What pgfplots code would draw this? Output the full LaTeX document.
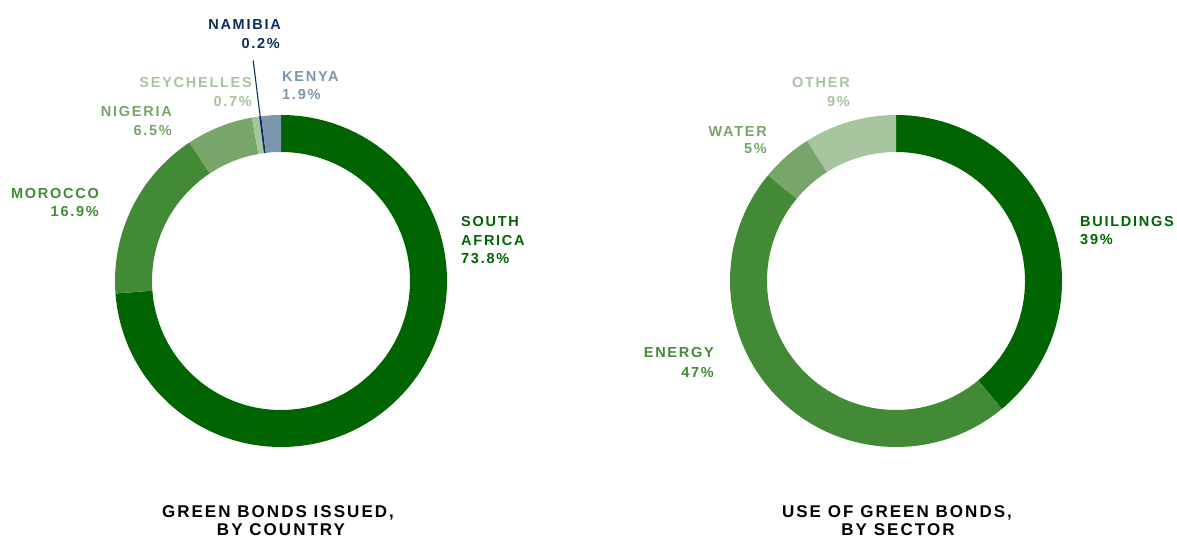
\documentclass[border=0pt]{standalone}
\usepackage{pgfplots}
\pgfplotsset{compat=1.18}
\usepackage{pgfplotstable}
\usepackage{fontspec}
\setmainfont{Liberation Sans}
\newfontfamily\lblfont[LetterSpace=12]{Liberation Sans}

\definecolor{cSA}{HTML}{006400}
\definecolor{cMO}{HTML}{438A36}
\definecolor{cNG}{HTML}{78A66A}
\definecolor{cSE}{HTML}{A6C59E}
\definecolor{cNA}{HTML}{0D2B5B}
\definecolor{cKE}{HTML}{7B96AE}

\pgfplotstableread{
name value color
SouthAfrica 73.8 cSA
Morocco 16.9 cMO
Nigeria 6.5 cNG
Seychelles 0.7 cSE
Namibia 0.2 cNA
Kenya 1.9 cKE
}\countrytab

\pgfplotstableread{
name value color
Buildings 39 cSA
Energy 47 cMO
Water 5 cNG
Other 9 cSE
}\sectortab

% #1 table, #2 cx, #3 cy, #4 outer R, #5 inner r
\newcommand{\donut}[5]{%
  \pgfplotstablegetrowsof{#1}%
  \pgfmathtruncatemacro{\lastrow}{\pgfplotsretval-1}%
  \def\cum{0}%
  \pgfplotsforeachungrouped \row in {0,...,\lastrow}{%
    \pgfplotstablegetelem{\row}{value}\of{#1}\let\val\pgfplotsretval
    \pgfplotstablegetelem{\row}{color}\of{#1}\let\col\pgfplotsretval
    \pgfmathsetmacro{\aS}{90-3.6*\cum}%
    \pgfmathsetmacro{\aE}{90-3.6*(\cum+\val)}%
    \pgfmathsetmacro{\xa}{#2+#4*cos(\aS)}%
    \pgfmathsetmacro{\ya}{#3+#4*sin(\aS)}%
    \pgfmathsetmacro{\xb}{#2+#5*cos(\aE)}%
    \pgfmathsetmacro{\yb}{#3+#5*sin(\aE)}%
    \edef\tmp{\noexpand\fill[\col] (axis cs:\xa,\ya) arc[start angle=\aS, end angle=\aE, radius=#4pt] -- (axis cs:\xb,\yb) arc[start angle=\aE, end angle=\aS, radius=#5pt] -- cycle;}%
    \tmp
    \pgfmathsetmacro{\cum}{\cum+\val}%
  }%
}

\tikzset{
  lbl/.style={inner sep=0pt, font=\lblfont\bfseries\fontsize{14.5}{17}\selectfont},
  ttl/.style={inner sep=0pt, font=\lblfont\bfseries\fontsize{17}{20}\selectfont, anchor=base},
}

\begin{document}
\begin{tikzpicture}
\begin{axis}[
  scale only axis, width=1177pt, height=543pt,
  xmin=0, xmax=1177, ymin=0, ymax=543,
  hide axis, clip=false,
]
\donut{\countrytab}{281}{262}{166}{129}
\donut{\sectortab}{896}{262}{166}{129}

% Namibia leader line
\draw[cNA, line width=1.1pt] (axis cs:264.8,390) -- (axis cs:253.2,482.5);

% left labels
\node[lbl, text=cNA, anchor=base east] at (axis cs:281,513) {NAMIBIA};
\node[lbl, text=cNA, anchor=base east] at (axis cs:280,494) {0.2\%};
\node[lbl, text=cSE, anchor=base east] at (axis cs:252,455) {SEYCHELLES};
\node[lbl, text=cSE, anchor=base east] at (axis cs:252,436) {0.7\%};
\node[lbl, text=cKE, anchor=base west] at (axis cs:282,461) {KENYA};
\node[lbl, text=cKE, anchor=base west] at (axis cs:282,443) {1.9\%};
\node[lbl, text=cNG, anchor=base east] at (axis cs:172,426) {NIGERIA};
\node[lbl, text=cNG, anchor=base east] at (axis cs:172,407) {6.5\%};
\node[lbl, text=cMO, anchor=base east] at (axis cs:99,344) {MOROCCO};
\node[lbl, text=cMO, anchor=base east] at (axis cs:99,326) {16.9\%};
\node[lbl, text=cSA, anchor=base west] at (axis cs:461,316) {SOUTH};
\node[lbl, text=cSA, anchor=base west] at (axis cs:461,297) {AFRICA};
\node[lbl, text=cSA, anchor=base west] at (axis cs:461,279) {73.8\%};

% right labels
\node[lbl, text=cSE, anchor=base east] at (axis cs:850,455) {OTHER};
\node[lbl, text=cSE, anchor=base east] at (axis cs:850,436) {9\%};
\node[lbl, text=cNG, anchor=base east] at (axis cs:767,406) {WATER};
\node[lbl, text=cNG, anchor=base east] at (axis cs:767,389) {5\%};
\node[lbl, text=cMO, anchor=base east] at (axis cs:714,185) {ENERGY};
\node[lbl, text=cMO, anchor=base east] at (axis cs:714,165) {47\%};
\node[lbl, text=cSA, anchor=base west] at (axis cs:1080,316) {BUILDINGS};
\node[lbl, text=cSA, anchor=base west] at (axis cs:1080,298) {39\%};

% titles
\node[ttl] at (axis cs:278,25) {GREEN BONDS ISSUED,};
\node[ttl] at (axis cs:281,8) {BY COUNTRY};
\node[ttl] at (axis cs:897,25) {USE OF GREEN BONDS,};
\node[ttl] at (axis cs:898,8) {BY SECTOR};
\end{axis}
\pgfresetboundingbox
\useasboundingbox (0,0) rectangle (1177pt,543pt);
\end{tikzpicture}
\end{document}
